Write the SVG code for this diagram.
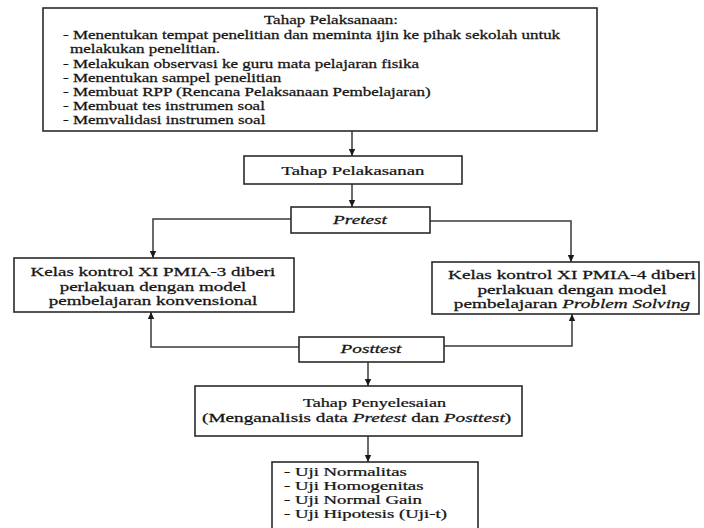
<svg xmlns="http://www.w3.org/2000/svg" width="704" height="528" viewBox="0 0 704 528">
<style>
.box{fill:#fff;stroke:#2a2a2a;stroke-width:1.6}
.con{fill:none;stroke:#3a3a3a;stroke-width:1.5}
text{font-family:"Liberation Serif","DejaVu Serif",serif;font-size:12.5px;fill:#151515;stroke:#151515;stroke-width:0.25}
.c{text-anchor:middle}
.i{font-style:italic}
</style>
<defs>
<marker id="ah" markerUnits="userSpaceOnUse" markerWidth="8" markerHeight="8" refX="7" refY="4" orient="auto">
<path d="M0,0.8 L7,4 L0,7.2 Z" fill="#1a1a1a"/>
</marker>
</defs>
<rect width="704" height="528" fill="#fff"/>
<g id="connectors">
<line class="con" x1="352" y1="131" x2="352" y2="156" marker-end="url(#ah)"/>
<line class="con" x1="352" y1="184" x2="352" y2="207" marker-end="url(#ah)"/>
<polyline class="con" points="291,219 153,219 153,258" marker-end="url(#ah)"/>
<polyline class="con" points="430,221 571,221 571,262" marker-end="url(#ah)"/>
<polyline class="con" points="299,347 151,347 151,312" marker-end="url(#ah)"/>
<polyline class="con" points="444,346 572,346 572,314" marker-end="url(#ah)"/>
<line class="con" x1="368" y1="362" x2="368" y2="386" marker-end="url(#ah)"/>
<line class="con" x1="368" y1="436" x2="368" y2="462" marker-end="url(#ah)"/>
</g>
<g id="persiapan">
<rect class="box" x="43" y="8" width="554" height="123"/>
<text class="c" transform="translate(331,24) scale(1.36,1)">Tahap Pelaksanaan:</text>
<text transform="translate(63,39) scale(1.36,1)">- Menentukan tempat penelitian dan meminta ijin ke pihak sekolah untuk</text>
<text transform="translate(70,53.2) scale(1.36,1)">melakukan penelitian.</text>
<text transform="translate(63,67.5) scale(1.36,1)">- Melakukan observasi ke guru mata pelajaran fisika</text>
<text transform="translate(63,81.7) scale(1.36,1)">- Menentukan sampel penelitian</text>
<text transform="translate(63,96) scale(1.36,1)">- Membuat RPP (Rencana Pelaksanaan Pembelajaran)</text>
<text transform="translate(63,110.2) scale(1.36,1)">- Membuat tes instrumen soal</text>
<text transform="translate(63,124.4) scale(1.36,1)">- Memvalidasi instrumen soal</text>
</g>
<g id="pelaksanaan">
<rect class="box" x="244" y="156" width="218" height="28"/>
<text class="c" transform="translate(353,174.5) scale(1.5,1)">Tahap Pelakasanan</text>
</g>
<g id="pretest">
<rect class="box" x="291" y="207" width="139" height="26"/>
<text class="c i" transform="translate(360,224) scale(1.54,1)">Pretest</text>
</g>
<g id="kelas-kontrol">
<rect class="box" x="14" y="258" width="280" height="54"/>
<text class="c" transform="translate(153,276) scale(1.52,1)">Kelas kontrol XI PMIA-3 diberi</text>
<text class="c" transform="translate(153,290.5) scale(1.52,1)">perlakuan dengan model</text>
<text class="c" transform="translate(153,305) scale(1.52,1)">pembelajaran konvensional</text>
</g>
<g id="kelas-eksperimen">
<rect class="box" x="432" y="262" width="267" height="52"/>
<text class="c" transform="translate(572,279) scale(1.54,1)">Kelas kontrol XI PMIA-4 diberi</text>
<text class="c" transform="translate(572,293.5) scale(1.54,1)">perlakuan dengan model</text>
<text class="c" transform="translate(572,308) scale(1.54,1)">pembelajaran <tspan class="i">Problem Solving</tspan></text>
</g>
<g id="posttest">
<rect class="box" x="299" y="337" width="145" height="25"/>
<text class="c i" transform="translate(371,353) scale(1.54,1)">Posttest</text>
</g>
<g id="penyelesaian">
<rect class="box" x="195" y="386" width="327" height="50"/>
<text transform="translate(303,407) scale(1.45,1)">Tahap Penyelesaian</text>
<text transform="translate(202,422) scale(1.54,1)">(Menganalisis data <tspan class="i">Pretest</tspan> dan <tspan class="i">Posttest</tspan>)</text>
</g>
<g id="uji">
<rect class="box" x="272" y="462" width="206" height="80"/>
<text transform="translate(284,476) scale(1.5,1)">- Uji Normalitas</text>
<text transform="translate(284,490) scale(1.5,1)">- Uji Homogenitas</text>
<text transform="translate(284,504) scale(1.5,1)">- Uji Normal Gain</text>
<text transform="translate(284,518) scale(1.5,1)">- Uji Hipotesis (Uji-t)</text>
</g>
</svg>
